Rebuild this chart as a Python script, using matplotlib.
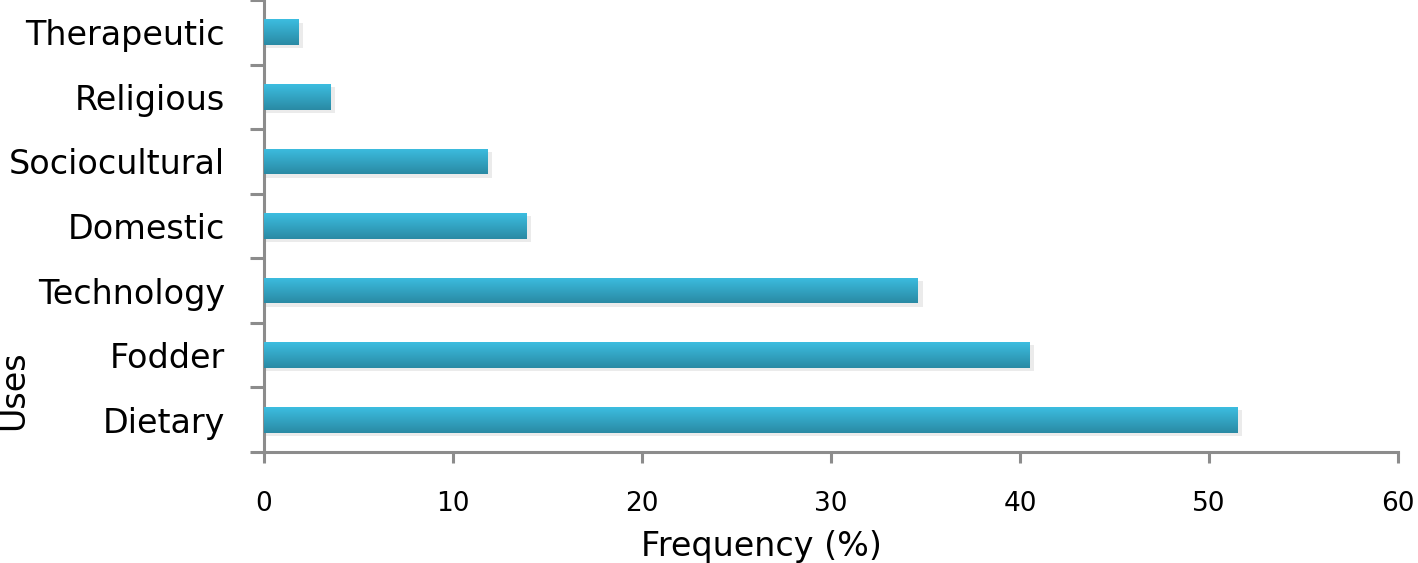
import matplotlib.pyplot as plt
import numpy as np
from matplotlib.colors import LinearSegmentedColormap

uses = ['Dietary', 'Fodder', 'Technology', 'Domestic', 'Sociocultural', 'Religious', 'Therapeutic']
freq = [51.5, 40.5, 34.6, 13.9, 11.8, 3.5, 1.8]

plt.rcParams['font.family'] = ['DejaVu Sans']
grey = '#8c8c8c'

fig = plt.figure(figsize=(14.18, 5.63), dpi=100)
ax = fig.add_axes([264/1418, 111/563, (1398-264)/1418, 452/563])

ypos = np.arange(len(uses))
bars = ax.barh(ypos, freq, height=0.4, color='#33aed0', zorder=3)

# gradient fill + soft shadow, light on top, darker teal below
cmap = LinearSegmentedColormap.from_list('bar', ['#3cbde0', '#2a8aa4'])
grad = np.linspace(0, 1, 64).reshape(-1, 1)
for b in bars:
    x0, y0, w, h = b.get_x(), b.get_y(), b.get_width(), b.get_height()
    ax.barh(y0 + h/2 - 0.05, w + 0.25, height=h, left=x0, color='#000000',
            alpha=0.08, zorder=2)
    im = ax.imshow(grad, aspect='auto', cmap=cmap, extent=(x0, x0 + w, y0, y0 + h),
                   origin='upper', zorder=4)
    im.set_clip_path(b)

ax.set_xlim(0, 60)
ax.set_ylim(-0.5, len(uses) - 0.5)
ax.set_xticks(np.arange(0, 61, 10))
ax.set_yticks(ypos)
ax.set_yticklabels(uses)
ax.set_yticks(np.arange(-0.5, len(uses), 1), minor=True)

for s in ['top', 'right']:
    ax.spines[s].set_visible(False)
for s in ['left', 'bottom']:
    ax.spines[s].set_color(grey)
    ax.spines[s].set_linewidth(2.2)

ax.tick_params(axis='y', which='major', length=0, pad=28, labelsize=24)
ax.tick_params(axis='y', which='minor', length=10, width=2.2, color=grey)
ax.tick_params(axis='x', which='major', length=8, width=2.2, color=grey,
               direction='out', pad=20, labelsize=19)

ax.set_xlabel('Frequency (%)', fontsize=24)
ax.xaxis.set_label_coords(0.439, -0.172)
ax.set_ylabel('Uses', fontsize=24)
ax.yaxis.set_label_coords(-0.206, 0.137)

fig.savefig('out.png', dpi=100)
